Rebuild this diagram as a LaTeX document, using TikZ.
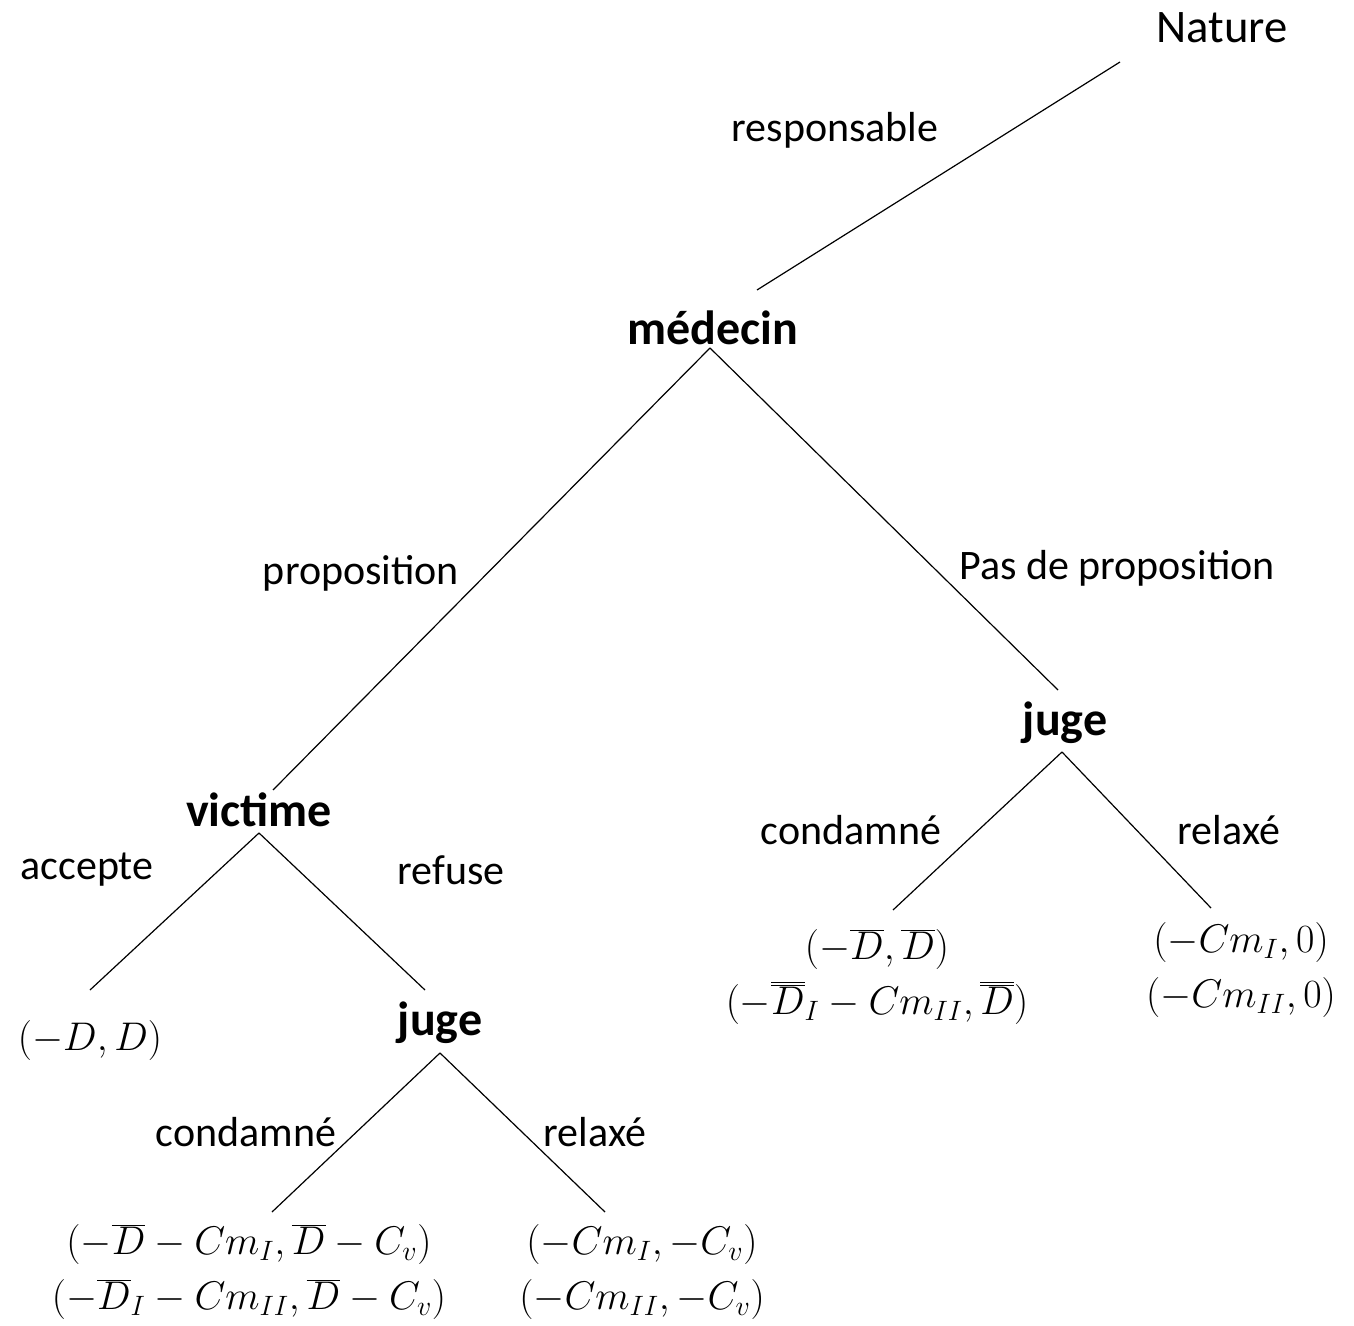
\RequirePackage{fix-cm}
\documentclass[tikz,border=0pt]{standalone}
\usepackage{fontspec}
\setmainfont{Carlito}
\newcommand\ddbar[1]{\overline{\overline{#1}}}
\begin{document}
\begin{tikzpicture}[x=0.75pt,y=-0.75pt,
  lbl/.style={inner sep=0pt,font=\fontsize{31.5}{38}\selectfont},
  player/.style={inner sep=0pt,font=\fontsize{36}{43}\selectfont\bfseries},
  payoff/.style={inner sep=0pt,align=center,font=\fontsize{30}{41}\selectfont},
  edge/.style={line width=0.9pt}]
\useasboundingbox (0,0) rectangle (1354,1326);
% players
\node[inner sep=0pt,font=\fontsize{35}{42}\selectfont] (nature) at (1222,28) {Nature};
\node[player] (medecin) at (713,328) {médecin};
\node[player] (victime) at (259,810) {victime};
\node[player] (jugeL) at (440,1023) {juge};
\node[player] (jugeR) at (1065,723) {juge};
% labels
\node[lbl] (lresp) at (835,130) {responsable};
\node[lbl] (lprop) at (361,573) {proposition};
\node[lbl] (lpas) at (1117,568) {Pas de proposition};
\node[lbl] (lacc) at (87,870) {accepte};
\node[lbl] (lref) at (451,870) {refuse};
\node[lbl] (lcondL) at (246,1132) {condamné};
\node[lbl] (lrelL) at (595,1132) {relaxé};
\node[lbl] (lcondR) at (851,830) {condamné};
\node[lbl] (lrelR) at (1229,830) {relaxé};
% payoffs
\node[payoff] (pacc) at (90,1040) {$(-D,D)$};
\node[payoff] (pcondL) at (249,1272) {$(-\overline{D}-Cm_{I},\overline{D}-C_{v})$\\$(-\overline{D}_{I}-Cm_{II},\overline{D}-C_{v})$};
\node[payoff] (prelL) at (642,1272) {$(-Cm_{I},-C_{v})$\\$(-Cm_{II},-C_{v})$};
\node[payoff] (pcondR) at (877,977) {$(-\overline{D},\overline{D})$\\$\bigl(-\ddbar{D}_{I}-Cm_{II},\ddbar{D}\bigr)$};
\node[payoff] (prelR) at (1241,970) {$(-Cm_{I},0)$\\$(-Cm_{II},0)$};
% connector end points
\coordinate (natS) at (1120,62);
\coordinate (medN) at (757,290);
\coordinate (medS) at (710,348);
\coordinate (vicN) at (273,790);
\coordinate (jRN) at (1058,690);
\coordinate (jRS) at (1062,752);
\coordinate (pcRN) at (893,910);
\coordinate (prRN) at (1211,908);
\coordinate (vicS) at (259,833);
\coordinate (paN) at (90,990);
\coordinate (jLN) at (425,990);
\coordinate (jLS) at (440,1053);
\coordinate (pcLN) at (272,1212);
\coordinate (prLN) at (605,1212);
% connectors
\draw[edge] (natS) -- (medN);
\draw[edge] (medS) -- (vicN);
\draw[edge] (medS) -- (jRN);
\draw[edge] (jRS) -- (pcRN);
\draw[edge] (jRS) -- (prRN);
\draw[edge] (vicS) -- (paN);
\draw[edge] (vicS) -- (jLN);
\draw[edge] (jLS) -- (pcLN);
\draw[edge] (jLS) -- (prLN);
\end{tikzpicture}
\end{document}
